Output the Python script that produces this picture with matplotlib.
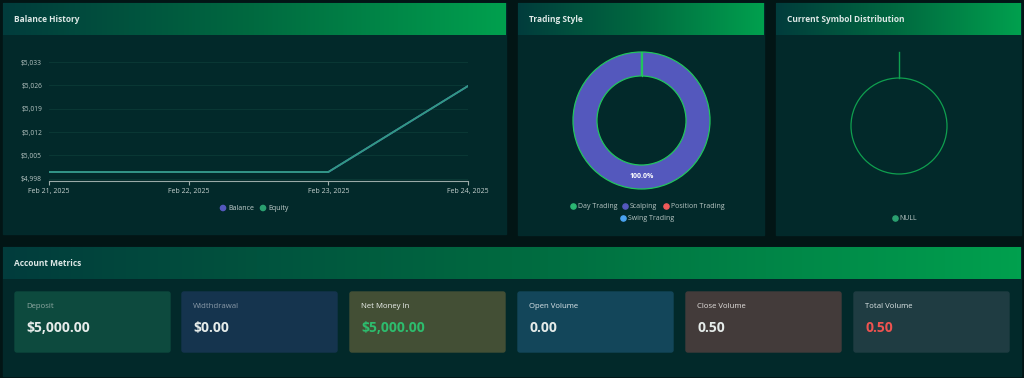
import numpy as np
import matplotlib
matplotlib.use('Agg')
import matplotlib.pyplot as plt
import matplotlib.colors as colors
from matplotlib.patches import Rectangle, FancyBboxPatch

plt.rcParams['font.family'] = ['Open Sans', 'DejaVu Sans']

# ---- data ----
dates = ['Feb 21, 2025', 'Feb 22, 2025', 'Feb 23, 2025', 'Feb 24, 2025']
balance = [5000, 5000, 5000, 5025.8]
equity = [5000, 5000, 5000, 5025.8]
y_ticks = [4998, 5005, 5012, 5019, 5026, 5033]

styles = ['Day Trading', 'Scalping', 'Position Trading', 'Swing Trading']
style_share = [0, 100, 0, 0]

symbols = ['NULL']
symbol_share = [0]

metric_labels = ['Deposit', 'Widthdrawal', 'Net Money In', 'Open Volume', 'Close Volume', 'Total Volume']
metric_values = ['$5,000.00', '$0.00', '$5,000.00', '0.00', '0.50', '0.50']

# ---- style ----
W, H = 1024, 378
BG = '#021515'
PANEL = '#02292a'
TITLE = '#dde8e6'
card_bg = ['#0d4a3e', '#15344e', '#434f35', '#13465a', '#433b3a', '#1f3c42']
label_col = ['#8fa8a2', '#8a9aa8', '#eef2ee', '#dde6ea', '#e4e0de', '#dde6e6']
value_col = ['#e6ecea', '#e6ecea', '#2dbd6e', '#e6ecea', '#e6ecea', '#ef5350']
style_cols = ['#2bb673', '#5458bd', '#f05a5a', '#4aa3f0']

fig = plt.figure(figsize=(W / 100, H / 100), dpi=100, facecolor=BG)
bg = fig.add_axes([0, 0, 1, 1])
bg.set_xlim(0, W)
bg.set_ylim(H, 0)
bg.axis('off')
bg.set_facecolor(BG)

grad = colors.LinearSegmentedColormap.from_list('hdr', ['#023c3c', '#006a40', '#00a04e'])


def panel(x0, y0, x1, y1, yh, title):
    bg.add_patch(Rectangle((x0, y0), x1 - x0, y1 - y0, color=PANEL, zorder=1))
    g = np.linspace(0, 1, 256).reshape(1, -1)
    bg.imshow(g, cmap=grad, extent=(x0, x1, yh, y0), aspect='auto', zorder=2)
    bg.text(x0 + 11, (y0 + yh) / 2, title, color=TITLE, fontsize=6, fontweight='bold',
            va='center', ha='left', zorder=3)


panel(3, 3, 506, 234, 35, 'Balance History')
panel(518, 3, 764, 235, 35, 'Trading Style')
panel(776, 3, 1021, 235, 35, 'Current Symbol Distribution')
panel(3, 247, 1021, 376, 279, 'Account Metrics')
bg.set_xlim(0, W)
bg.set_ylim(H, 0)

# metric cards
card_x = [15, 182, 350, 518, 686, 854]
for i, (lab, val) in enumerate(zip(metric_labels, metric_values)):
    x = card_x[i]
    bg.add_patch(FancyBboxPatch((x, 292), 155, 60, boxstyle='round,pad=0,rounding_size=2',
                                color=card_bg[i], zorder=2))
    bg.text(x + 11, 307, lab, color=label_col[i], fontsize=5.6, va='center', zorder=3)
    bg.text(x + 11, 328, val, color=value_col[i], fontsize=10, fontweight='bold',
            va='center', zorder=3)


def px_axes(x0, y0, x1, y1):
    return fig.add_axes([x0 / W, 1 - y1 / H, (x1 - x0) / W, (y1 - y0) / H])


# ---- balance history ----
ax = px_axes(49, 62, 468, 181)
ax.set_facecolor('none')
xi = np.arange(len(dates))
ax.plot(xi, balance, color='#5458bd', lw=1.3, zorder=2)
ax.plot(xi, equity, color='#2f9b82', lw=1.3, zorder=3)
ax.set_xlim(0, len(dates) - 1)
ax.set_ylim(4997.3, 5033)
ax.set_yticks(y_ticks)
ax.set_yticklabels([f'${v:,}' for v in y_ticks])
ax.set_xticks(xi)
ax.set_xticklabels(dates)
ax.grid(axis='y', color='#0b3a36', lw=0.6)
for s in ['top', 'right', 'left']:
    ax.spines[s].set_visible(False)
ax.spines['bottom'].set_color('#9aaaa8')
ax.spines['bottom'].set_linewidth(0.8)
ax.tick_params(axis='y', length=0, labelsize=4.8, labelcolor='#b8c6c4', pad=5)
ax.tick_params(axis='x', length=3, color='#9aaaa8', labelsize=5, labelcolor='#c4d0ce', pad=2)
bg.scatter([223, 263], [208, 208], s=14, c=['#5458bd', '#2aa070'], zorder=4)
bg.text(228, 208, 'Balance', color='#c4d0ce', fontsize=5, va='center', zorder=4)
bg.text(268, 208, 'Equity', color='#c4d0ce', fontsize=5, va='center', zorder=4)

# ---- trading style donut ----
ax2 = px_axes(573, 52, 710, 189)
ax2.set_facecolor('none')
wedges, _ = ax2.pie(style_share, colors=style_cols, startangle=90, counterclock=False,
                    radius=1.0, wedgeprops=dict(width=0.35, edgecolor='#22c55e', linewidth=0.9))
ax2.set_xlim(-1, 1)
ax2.set_ylim(-1, 1)
ax2.plot([0, 0], [0.65, 1.0], color='#22c55e', lw=0.9)
k = int(np.argmax(style_share))
ax2.text(0, -0.82, f'{style_share[k] / sum(style_share) * 100:.1f}%', color='white',
         fontsize=5, fontweight='bold', ha='center', va='center')
ax2.axis('off')
leg_pos = [(573, 206), (625, 206), (666, 206), (623, 218)]
for (lx, ly), name, c in zip(leg_pos, styles, style_cols):
    bg.scatter([lx], [ly], s=14, c=[c], zorder=4)
    bg.text(lx + 5, ly, name, color='#b8c6c4', fontsize=5, va='center', zorder=4)

# ---- symbol distribution ----
ax3 = px_axes(851, 78, 947, 174)
ax3.set_facecolor('none')
ax3.pie([1], colors=['none'], startangle=90, radius=1.0,
        wedgeprops=dict(edgecolor='#0f9f4f', linewidth=0.9, fill=False))
ax3.set_xlim(-1, 1)
ax3.set_ylim(-1, 1)
ax3.plot([0, 0], [1.0, 1.54], color='#0f9f4f', lw=1.0, clip_on=False)
ax3.axis('off')
bg.scatter([895], [218], s=14, c=['#2aa070'], zorder=4)
bg.text(899, 218, symbols[0], color='#b8c6c4', fontsize=5, va='center', zorder=4)

fig.savefig('out.png', dpi=100, facecolor=BG)
